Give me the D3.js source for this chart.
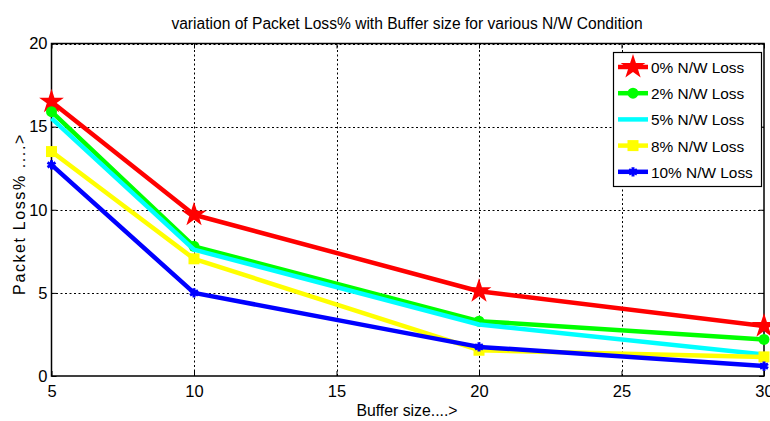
<!DOCTYPE html>
<html>
<head>
<meta charset="utf-8">
<script src="https://cdn.jsdelivr.net/npm/d3@7"></script>
<style>
  body { margin: 0; background: #fff; }
  text { font-family: "Liberation Sans", Arial, sans-serif; fill: #000; }
</style>
</head>
<body>
<div id="chart"></div>
<script>
// data
var bufferSizes = [5, 10, 20, 30];
var loss0  = [16.5, 9.7, 5.1, 3.0];
var loss2  = [15.9, 7.8, 3.3, 2.2];
var loss5  = [15.5, 7.6, 3.1, 1.3];
var loss8  = [13.5, 7.05, 1.55, 1.15];
var loss10 = [12.7, 5.0, 1.75, 0.6];
var seriesNames = ["0% N/W Loss", "2% N/W Loss", "5% N/W Loss", "8% N/W Loss", "10% N/W Loss"];
var xTicks = [5, 10, 15, 20, 25, 30];
var yTicks = [0, 5, 10, 15, 20];

var w = 770, h = 421;
var margin = {left: 51.5, right: 6, top: 43.5, bottom: 45};

var svg = d3.select("#chart").append("svg")
    .attr("width", w)
    .attr("height", h);

var x = d3.scaleLinear().domain([5, 30]).range([margin.left, w - margin.right]);
var y = d3.scaleLinear().domain([0, 20]).range([h - margin.bottom, margin.top]);

var series = [
  {name: seriesNames[0], values: loss0,  color: "#ff0000", marker: "star"},
  {name: seriesNames[1], values: loss2,  color: "#00ff00", marker: "circle"},
  {name: seriesNames[2], values: loss5,  color: "#00ffff", marker: "none"},
  {name: seriesNames[3], values: loss8,  color: "#ffff00", marker: "square"},
  {name: seriesNames[4], values: loss10, color: "#0000ff", marker: "asterisk"}
];

// grid
var grid = svg.append("g");
grid.selectAll(".gx").data(xTicks.slice(1, -1)).enter().append("line")
    .attr("x1", function(d) { return Math.round(x(d)) + 0.5; })
    .attr("x2", function(d) { return Math.round(x(d)) + 0.5; })
    .attr("y1", y(0)).attr("y2", y(20))
    .attr("stroke", "#000").attr("stroke-width", 1).attr("stroke-dasharray", "2,2.5");
grid.selectAll(".gy").data(yTicks.slice(1)).enter().append("line")
    .attr("y1", function(d) { return Math.round(y(d)) + 0.5; })
    .attr("y2", function(d) { return Math.round(y(d)) + 0.5; })
    .attr("x1", x(5)).attr("x2", x(30))
    .attr("stroke", "#000").attr("stroke-width", 1).attr("stroke-dasharray", "2,2.5");

// axes box
svg.append("rect")
    .attr("x", x(5)).attr("y", y(20))
    .attr("width", x(30) - x(5)).attr("height", y(0) - y(20))
    .attr("fill", "none").attr("stroke", "#000").attr("stroke-width", 1.5);

var xAxis = d3.axisBottom(x).tickValues(xTicks).tickSize(-5).tickPadding(9);
var yAxis = d3.axisLeft(y).tickValues(yTicks).tickSize(-5).tickPadding(4);

svg.append("g").attr("transform", "translate(0," + y(0) + ")").call(xAxis)
  .call(function(g) { g.select(".domain").remove(); })
  .selectAll("text").style("font-size", "16.5px");
svg.append("g").attr("transform", "translate(" + x(5) + ",0)").call(yAxis)
  .call(function(g) { g.select(".domain").remove(); })
  .selectAll("text").style("font-size", "16.5px");
// mirror ticks on top / right
svg.append("g").attr("transform", "translate(0," + y(20) + ")")
  .call(d3.axisTop(x).tickValues(xTicks).tickSize(-5).tickFormat(""))
  .call(function(g) { g.select(".domain").remove(); });
svg.append("g").attr("transform", "translate(" + x(30) + ",0)")
  .call(d3.axisRight(y).tickValues(yTicks).tickSize(-5).tickFormat(""))
  .call(function(g) { g.select(".domain").remove(); });

// lines
var line = d3.line()
    .x(function(d, i) { return x(bufferSizes[i]); })
    .y(function(d) { return y(d); });

function drawMarker(sel, type, color) {
  if (type == "star") {
    sel.append("path").attr("d", d3.symbol().type(d3.symbolStar).size(190))
      .attr("fill", color);
  } else if (type == "circle") {
    sel.append("circle").attr("r", 5.5).attr("fill", color);
  } else if (type == "square") {
    sel.append("rect").attr("x", -5.5).attr("y", -5.5).attr("width", 11).attr("height", 11)
      .attr("fill", color);
  } else if (type == "asterisk") {
    sel.append("path").attr("d", d3.symbol().type(d3.symbolAsterisk).size(60))
      .attr("stroke", color).attr("stroke-width", 3).attr("fill", "none");
  }
}

series.forEach(function(s) {
  svg.append("path")
    .datum(s.values)
    .attr("d", line)
    .attr("fill", "none")
    .attr("stroke", s.color)
    .attr("stroke-width", 4.5)
    .attr("stroke-linejoin", "round");
  s.values.forEach(function(v, i) {
    var g = svg.append("g").attr("transform", "translate(" + x(bufferSizes[i]) + "," + y(v) + ")");
    drawMarker(g, s.marker, s.color);
  });
});

// title and labels
svg.append("text")
    .attr("x", 407).attr("y", 29)
    .attr("text-anchor", "middle")
    .style("font-size", "15.6px")
    .text("variation of Packet Loss% with Buffer size for various N/W Condition");

svg.append("text")
    .attr("x", 407).attr("y", 416)
    .attr("text-anchor", "middle")
    .style("font-size", "15.8px")
    .text("Buffer size....>");

svg.append("text")
    .attr("transform", "translate(25,214) rotate(-90)")
    .attr("text-anchor", "middle")
    .style("font-size", "16px")
    .style("letter-spacing", "1.6px")
    .text("Packet Loss% ....>");

// legend
var legend = svg.append("g");
legend.append("rect")
    .attr("x", 613.5).attr("y", 52.5)
    .attr("width", 148).attr("height", 134)
    .attr("fill", "#fff").attr("stroke", "#000").attr("stroke-width", 1.2);

series.forEach(function(s, i) {
  var ly = 67 + i * 26.2;
  var g = legend.append("g");
  g.append("line")
    .attr("x1", 618).attr("x2", 648).attr("y1", ly).attr("y2", ly)
    .attr("stroke", s.color).attr("stroke-width", 4.5);
  drawMarker(g.append("g").attr("transform", "translate(633," + ly + ")"), s.marker, s.color);
  g.append("text")
    .attr("x", 651).attr("y", ly + 6)
    .style("font-size", "15.4px")
    .text(s.name);
});
</script>
</body>
</html>
